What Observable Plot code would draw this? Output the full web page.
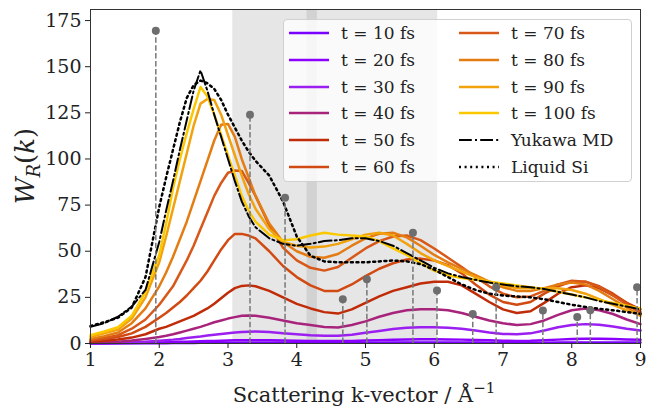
<!DOCTYPE html>
<html><head><meta charset="utf-8">
<script src="https://cdn.jsdelivr.net/npm/d3@7"></script>
<script src="https://cdn.jsdelivr.net/npm/@observablehq/plot@0.6"></script>
<style>
body{margin:0;background:#fff;}
#wrap{position:relative;width:659px;height:410px;font-family:"DejaVu Serif",serif;}
#legend{position:absolute;left:283px;top:19px;width:349px;height:163px;background:rgba(255,255,255,0.8);border:1px solid #d0d0d0;border-radius:4px;box-sizing:border-box;}
.item{position:absolute;height:20px;display:flex;align-items:center;font-size:17px;color:#222;white-space:nowrap;}
.item svg{margin-right:12px;}
</style></head><body><div id="wrap"></div>
<script>
// ---- data ----
const kGrid = [1.0,1.2,1.4,1.6,1.8,2.0,2.1,2.2,2.3,2.4,2.5,2.6,2.7,2.8,2.9,3.0,3.1,3.2,3.3,3.4,3.6,3.8,4.0,4.2,4.4,4.6,4.8,5.0,5.2,5.4,5.6,5.8,6.0,6.2,6.4,6.6,6.8,7.0,7.2,7.4,7.6,7.8,8.0,8.2,8.4,8.6,8.8,9.0];
const times = [10,20,30,40,50,60,70,80,90,100];
const seriesLabels = ["t = 10 fs","t = 20 fs","t = 30 fs","t = 40 fs","t = 50 fs","t = 60 fs","t = 70 fs","t = 80 fs","t = 90 fs","t = 100 fs"];
const seriesColors = ["#7a00ff","#8c00ff","#9b1ff0","#a8247c","#c02c08","#d14a12","#d75818","#e47c14","#f2a20c","#fbc800"];
const w10 = [0.05,0.05,0.1,0.1,0.15,0.2,0.2,0.25,0.25,0.3,0.3,0.35,0.35,0.4,0.4,0.4,0.45,0.45,0.45,0.45,0.45,0.4,0.4,0.4,0.35,0.35,0.4,0.4,0.45,0.5,0.5,0.55,0.55,0.55,0.5,0.5,0.45,0.4,0.4,0.4,0.45,0.5,0.55,0.6,0.6,0.6,0.55,0.5];
const w20 = [0.1,0.15,0.2,0.3,0.4,0.6,0.7,0.8,0.9,1.0,1.1,1.2,1.3,1.4,1.5,1.6,1.7,1.8,1.8,1.8,1.7,1.6,1.5,1.4,1.3,1.3,1.4,1.6,1.8,2.0,2.2,2.3,2.3,2.2,2.1,1.9,1.7,1.5,1.4,1.5,1.8,2.1,2.4,2.6,2.6,2.4,2.2,2.0];
const w30 = [0.3,0.4,0.5,0.7,1,1.5,1.8,2.1,2.5,3,3.4,3.8,4.3,4.7,5.1,5.5,5.9,6.2,6.4,6.5,6.2,5.5,5,4.5,4.2,4.2,4.8,5.8,6.8,7.8,8.5,8.8,8.8,8.6,8,7,6,5.2,5,5.5,7,8.8,10,10.5,10.2,9.2,8,7];
const w40 = [0.5,0.7,1,1.6,2.5,3.5,4.2,5,6,7,8,9,10.2,11.5,12.5,13.5,14.3,15,15.2,15,14,12.5,11,10,9,8.7,10,12,14.5,16.5,18,18.5,18.5,18,16.5,14.5,12.5,11,10,10.5,12.5,15.5,18,19,18,16,13,10.5];
const w50 = [1,1.5,2.2,3.2,5,8,9,10.5,12,13.5,15,17,19,21.5,24.5,27.5,30,31.2,31.5,31,28.5,25,21.5,19,17,16.2,18.5,22,25.5,28.5,30.5,32.5,33.5,33.5,31.5,27,22.5,18.5,16.5,17.5,22,27,30.5,31.5,30,26,22,18.5];
const w60 = [1.5,2.5,3.5,5.5,9,14,16.5,19.5,22.5,26,30,34,39,45,51,56,59.4,59.4,58.5,57,50,42,36,31.5,28.5,28.5,32,36.5,40.5,43.5,45.5,46,45,42.5,38,32,26.5,22.5,21,22.5,27,31,33.5,33.5,31,27,22,17];
const w70 = [2,3,4.5,8,13,21,26,31,38,45,53,62,71,80,87,92.5,93.7,93.5,87,80,64,52,45,41,39.5,41.5,46.5,51.5,55.5,58,58.5,56,51.5,46.5,41.5,36,31,27,25,25.5,28.5,32,34,33.5,30.5,26,21,16.5];
const w80 = [2.5,4,6,11,19,31,38.5,47,56.5,66,77,88,99,110,118.5,119,112,100,90,80,65,55,50,47,46.5,48.5,53,57,59.5,60,57.5,53,48,44,40.5,37,33.5,30.5,28.5,28.5,30,32,33,32,28.5,24,19.5,15];
const w90 = [3.5,5.5,7.5,13.5,25,44,58,73,88,103,118,130,132.5,132,124,113,102,91,81,73,62,55,53,52,52.5,54,56.5,59,60,58.5,54,49,45,42,39,36,33.5,31.5,30,30,30,30,29,27,24,21,18,15.5];
const w100 = [4.5,6.5,8.8,15,28,48,65,84,100,114,127,139,134,124,113,102,91,80,72,66,59,56,56.5,58.5,60,59,58.5,58,55.5,51.5,48,43.5,39.5,37,35.5,34.5,33.5,32.5,31.5,30.5,29.5,28,26.5,25,23.5,22,20.5,19];
const yukawa = [9,11,14.5,20,29,55,72,88,105,121,137,148,137,124,112,100,88,77,69,63,57,54,53,54,55.5,56,57,57,55.5,53,49,45,41,38,36,34.5,33,32,31,30.5,29.5,28,26.5,25,23,21.5,20,18.5];
const liquidSi = [9.5,11.5,14,19.5,36,74,90,105,120,133,140,142.5,141,138,132,124,117,110,104,99,91,77,58,47.5,44.5,44,44,44,44.5,45,44.5,43,40,36,32,29,27,26,25.5,25,24,22.5,21,19.8,18.8,18,17,16];
const stemK = [1.95,3.32,3.83,4.67,5.02,5.69,6.04,6.56,6.9,7.58,8.08,8.27,8.95];
const stemW = [169.5,123.9,79,24,34.8,60,28.7,16,30.5,17.9,14.3,18,30.5];
const spanStart = [3.07,4.15];
const spanEnd = [4.3,6.05];
const xTicks = [1,2,3,4,5,6,7,8,9];
const yTicks = [0,25,50,75,100,125,150,175];

const allSeries = [w10,w20,w30,w40,w50,w60,w70,w80,w90,w100];
const toRows = arr => arr.map((w,j)=>({k:kGrid[j], w}));
const spans = spanStart.map((s,i)=>({x1:s, x2:spanEnd[i]}));
const stems = stemK.map((k,i)=>({k, w:stemW[i]}));

const dotDash = "2,3.6";
const marks = [
  Plot.rect(spans, {x1:"x1", x2:"x2", fill:"gray", fillOpacity:0.2}),
  ...allSeries.map((arr,i)=>Plot.line(toRows(arr), {x:"k", y:"w", stroke:seriesColors[i], strokeWidth:2.5})),
  Plot.line(toRows(yukawa), {x:"k", y:"w", stroke:"black", strokeWidth:2, strokeDasharray:"12.8,3.2,2,3.2"}),
  Plot.line(toRows(liquidSi), {x:"k", y:"w", stroke:"black", strokeWidth:2.5, strokeDasharray:dotDash}),
  Plot.ruleX(stems, {x:"k", y1:0, y2:"w", stroke:"#777", strokeWidth:1.5, strokeDasharray:"5.5,2.4"}),
  Plot.dot(stems, {x:"k", y:"w", r:4, fill:"#6e6e6e", stroke:"none"}),
  Plot.frame({stroke:"#333", strokeWidth:1}),
  Plot.axisX({ticks:xTicks, tickSize:5, tickPadding:4, fontSize:19, label:null, tickFormat:d=>String(d)}),
  Plot.axisY({ticks:yTicks, tickSize:5, tickPadding:4, fontSize:19, label:null, tickFormat:d=>String(d)})
];

const chart = Plot.plot({
  width:659, height:410,
  marginLeft:90, marginRight:19, marginTop:9, marginBottom:67,
  style:{fontFamily:"DejaVu Serif", fontSize:"19px", color:"#222", background:"white", overflow:"visible"},
  x:{domain:[1,9]},
  y:{domain:[0,181]},
  marks
});
const wrap = document.getElementById("wrap");
wrap.appendChild(chart);

// axis titles with sub/superscripts as real text
const svg = d3.select(chart);
const xl = svg.append("text").attr("x",364).attr("y",402).attr("text-anchor","middle")
  .attr("font-family","DejaVu Serif").attr("font-size",21).attr("fill","#222");
xl.append("tspan").text("Scattering k-vector / Å");
xl.append("tspan").attr("dy",-9).attr("font-size",15).text("−1");
const yl = svg.append("text").attr("transform","translate(34,166) rotate(-90)").attr("text-anchor","middle")
  .attr("font-family","DejaVu Serif").attr("font-size",26).attr("fill","#222");
yl.append("tspan").attr("font-style","italic").text("W");
yl.append("tspan").attr("font-style","italic").attr("font-size",18).attr("dy",6).text("R");
yl.append("tspan").attr("dy",-6).text("(");
yl.append("tspan").attr("font-style","italic").text("k");
yl.append("tspan").text(")");

// legend
const legend = document.createElement("div");
legend.id = "legend";
wrap.appendChild(legend);
const entries = seriesLabels.map((l,i)=>({label:l, color:seriesColors[i], dash:null, w:2.5}))
  .concat([{label:"Yukawa MD", color:"black", dash:"12.8,3.2,2,3.2", w:2},{label:"Liquid Si", color:"black", dash:dotDash, w:2.5}]);
entries.forEach((e,i)=>{
  const c = Math.floor(i/6), r = i%6;
  const d = document.createElement("div");
  d.className = "item";
  d.style.left = (c===0?5:175)+"px";
  d.style.top = (13.3 + 26.7*r - 10)+"px";
  d.innerHTML = `<svg width="40" height="10"><line x1="0" y1="5" x2="40" y2="5" stroke="${e.color}" stroke-width="${e.w}" ${e.dash?`stroke-dasharray="${e.dash}"`:""}/></svg><span>${e.label}</span>`;
  legend.appendChild(d);
});
</script></body></html>
